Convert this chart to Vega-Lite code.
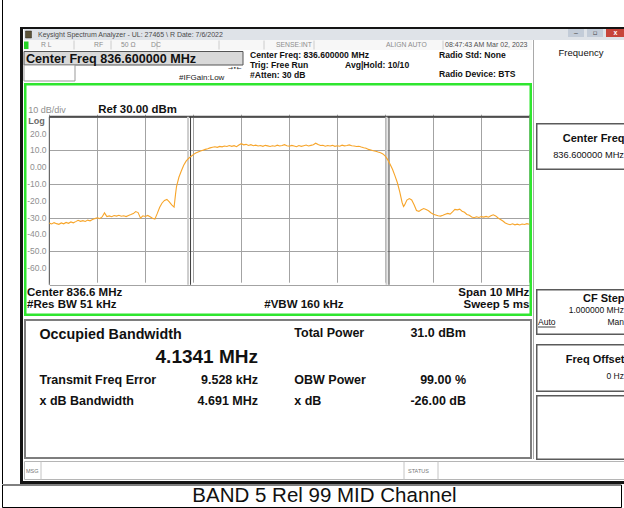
{
  "$schema": "https://vega.github.io/schema/vega-lite/v6.json",
  "background": "white",
  "padding": {"left": 2, "top": 0, "right": 0, "bottom": 0},
  "spacing": 0,
  "config": {
    "view": {"stroke": null},
    "font": "Liberation Sans",
    "text": {"font": "Liberation Sans", "baseline": "middle"},
    "axis": {"domain": false, "ticks": false, "labels": false, "grid": false, "titleOpacity": 0, "titleFontSize": 0, "titlePadding": 0, "labelPadding": 0, "labelOverlap": false, "minExtent": 0},
    "concat": {"spacing": 0}
  },
  "datasets": {
    "one": [{"k": 1}],
    "obw": [{"edge": "lower", "f": 834.5425}, {"edge": "upper", "f": 838.6766}],
    "ylabels": [
      {"lvl": 20, "txt": "20.0"}, {"lvl": 10, "txt": "10.0"}, {"lvl": 0, "txt": "0.00"}, {"lvl": -10, "txt": "-10.0"},
      {"lvl": -20, "txt": "-20.0"}, {"lvl": -30, "txt": "-30.0"}, {"lvl": -40, "txt": "-40.0"}, {"lvl": -50, "txt": "-50.0"}, {"lvl": -60, "txt": "-60.0"}
    ],
    "results": [
      {"name": "Occupied Bandwidth", "value": "4.1341 MHz"},
      {"name": "Total Power", "value": "31.0 dBm"},
      {"name": "Transmit Freq Error", "value": "9.528 kHz"},
      {"name": "OBW Power", "value": "99.00 %"},
      {"name": "x dB Bandwidth", "value": "4.691 MHz"},
      {"name": "x dB", "value": "-26.00 dB"}
    ],
    "trace": [
      {"f":831.60,"p":-33.3},{"f":831.65,"p":-33.8},{"f":831.70,"p":-33.0},{"f":831.75,"p":-33.6},{"f":831.80,"p":-34.0},
      {"f":831.85,"p":-33.2},{"f":831.90,"p":-33.7},{"f":831.95,"p":-32.9},{"f":832.00,"p":-33.4},{"f":832.05,"p":-32.6},
      {"f":832.10,"p":-33.1},{"f":832.15,"p":-32.4},{"f":832.20,"p":-31.6},{"f":832.25,"p":-32.2},{"f":832.30,"p":-31.8},
      {"f":832.35,"p":-32.3},{"f":832.40,"p":-31.5},{"f":832.45,"p":-31.9},{"f":832.50,"p":-31.2},{"f":832.55,"p":-30.6},
      {"f":832.60,"p":-30.1},{"f":832.65,"p":-30.6},{"f":832.70,"p":-29.6},{"f":832.75,"p":-27.2},{"f":832.80,"p":-29.4},
      {"f":832.85,"p":-29.0},{"f":832.90,"p":-29.5},{"f":832.95,"p":-28.8},{"f":833.00,"p":-29.1},{"f":833.05,"p":-28.6},
      {"f":833.10,"p":-29.2},{"f":833.15,"p":-28.9},{"f":833.20,"p":-29.4},{"f":833.25,"p":-28.7},{"f":833.30,"p":-28.2},
      {"f":833.35,"p":-27.6},{"f":833.40,"p":-26.4},{"f":833.45,"p":-27.0},{"f":833.50,"p":-30.3},{"f":833.55,"p":-28.9},
      {"f":833.60,"p":-29.3},{"f":833.65,"p":-28.7},{"f":833.70,"p":-29.5},{"f":833.75,"p":-30.4},{"f":833.80,"p":-30.9},
      {"f":833.85,"p":-27.5},{"f":833.90,"p":-23.8},{"f":833.95,"p":-21.3},{"f":834.00,"p":-19.8},{"f":834.05,"p":-19.2},
      {"f":834.10,"p":-20.6},{"f":834.15,"p":-22.4},{"f":834.20,"p":-23.8},{"f":834.23,"p":-16.0},{"f":834.25,"p":-11.5},
      {"f":834.30,"p":-6.0},{"f":834.35,"p":-2.3},{"f":834.40,"p":1.2},{"f":834.45,"p":3.6},{"f":834.50,"p":5.2},
      {"f":834.55,"p":6.4},{"f":834.60,"p":7.5},{"f":834.65,"p":8.4},{"f":834.70,"p":9.0},{"f":834.75,"p":9.6},
      {"f":834.80,"p":10.1},{"f":834.85,"p":10.6},{"f":834.90,"p":11.0},{"f":834.95,"p":11.5},{"f":835.00,"p":11.9},
      {"f":835.05,"p":12.2},{"f":835.10,"p":11.8},{"f":835.15,"p":12.4},{"f":835.20,"p":12.1},{"f":835.25,"p":12.6},
      {"f":835.30,"p":12.3},{"f":835.35,"p":12.9},{"f":835.40,"p":12.4},{"f":835.45,"p":12.8},{"f":835.50,"p":12.2},
      {"f":835.55,"p":13.2},{"f":835.60,"p":14.0},{"f":835.65,"p":13.3},{"f":835.70,"p":13.6},{"f":835.75,"p":12.9},
      {"f":835.80,"p":13.4},{"f":835.85,"p":12.8},{"f":835.90,"p":13.1},{"f":835.95,"p":12.6},{"f":836.00,"p":12.9},
      {"f":836.05,"p":12.4},{"f":836.10,"p":13.0},{"f":836.15,"p":12.7},{"f":836.20,"p":12.3},{"f":836.25,"p":12.8},
      {"f":836.30,"p":12.5},{"f":836.35,"p":13.1},{"f":836.40,"p":12.6},{"f":836.45,"p":12.9},{"f":836.50,"p":13.4},
      {"f":836.55,"p":12.8},{"f":836.60,"p":12.5},{"f":836.65,"p":13.0},{"f":836.70,"p":12.6},{"f":836.75,"p":12.2},
      {"f":836.80,"p":12.9},{"f":836.85,"p":12.4},{"f":836.90,"p":12.8},{"f":836.95,"p":13.2},{"f":837.00,"p":12.6},
      {"f":837.05,"p":13.0},{"f":837.10,"p":13.4},{"f":837.15,"p":14.3},{"f":837.20,"p":13.5},{"f":837.25,"p":12.9},
      {"f":837.30,"p":13.1},{"f":837.35,"p":12.5},{"f":837.40,"p":12.9},{"f":837.45,"p":12.6},{"f":837.50,"p":13.0},
      {"f":837.55,"p":12.4},{"f":837.60,"p":12.8},{"f":837.65,"p":12.5},{"f":837.70,"p":13.1},{"f":837.75,"p":12.7},
      {"f":837.80,"p":12.9},{"f":837.85,"p":13.3},{"f":837.90,"p":12.8},{"f":837.95,"p":12.6},{"f":838.00,"p":12.3},
      {"f":838.05,"p":12.5},{"f":838.10,"p":12.0},{"f":838.15,"p":11.6},{"f":838.20,"p":11.3},{"f":838.25,"p":10.6},
      {"f":838.30,"p":10.2},{"f":838.35,"p":9.8},{"f":838.40,"p":9.5},{"f":838.45,"p":9.0},{"f":838.50,"p":8.6},
      {"f":838.55,"p":7.9},{"f":838.60,"p":6.6},{"f":838.65,"p":4.5},{"f":838.70,"p":1.8},{"f":838.75,"p":-1.2},
      {"f":838.80,"p":-5.0},{"f":838.85,"p":-9.1},{"f":838.90,"p":-14.5},{"f":838.95,"p":-21.0},{"f":838.98,"p":-23.4},
      {"f":839.00,"p":-22.6},{"f":839.05,"p":-19.6},{"f":839.10,"p":-18.7},{"f":839.15,"p":-19.5},{"f":839.20,"p":-22.4},
      {"f":839.25,"p":-25.8},{"f":839.30,"p":-26.3},{"f":839.35,"p":-25.3},{"f":839.40,"p":-24.6},{"f":839.45,"p":-25.2},
      {"f":839.50,"p":-25.9},{"f":839.55,"p":-27.1},{"f":839.60,"p":-28.0},{"f":839.65,"p":-28.4},{"f":839.70,"p":-28.9},
      {"f":839.75,"p":-29.1},{"f":839.80,"p":-28.6},{"f":839.85,"p":-28.0},{"f":839.90,"p":-27.5},{"f":839.95,"p":-27.9},
      {"f":840.00,"p":-26.6},{"f":840.05,"p":-25.1},{"f":840.10,"p":-25.4},{"f":840.15,"p":-25.0},{"f":840.20,"p":-26.2},
      {"f":840.25,"p":-26.8},{"f":840.30,"p":-28.1},{"f":840.35,"p":-28.6},{"f":840.40,"p":-29.6},{"f":840.45,"p":-30.1},
      {"f":840.50,"p":-29.5},{"f":840.55,"p":-29.9},{"f":840.60,"p":-29.4},{"f":840.65,"p":-29.7},{"f":840.70,"p":-29.3},
      {"f":840.75,"p":-29.8},{"f":840.80,"p":-28.9},{"f":840.85,"p":-28.3},{"f":840.90,"p":-29.0},{"f":840.95,"p":-30.2},
      {"f":841.00,"p":-31.1},{"f":841.05,"p":-32.0},{"f":841.10,"p":-33.2},{"f":841.15,"p":-33.8},{"f":841.20,"p":-34.2},
      {"f":841.25,"p":-33.7},{"f":841.30,"p":-34.3},{"f":841.35,"p":-33.9},{"f":841.40,"p":-34.4},{"f":841.45,"p":-33.8},
      {"f":841.50,"p":-34.1},{"f":841.55,"p":-33.6},{"f":841.60,"p":-34.0}
    ]
  },
  "vconcat": [
    {"hconcat": [
      {"width": 1, "height": 484, "data": {"name": "one"}, "mark": {"type": "text", "text": "", "fontSize": 1}, "view": {"fill": "#000000", "stroke": null}},
      {"width": 17, "height": 484, "data": {"name": "one"}, "mark": {"type": "text", "text": "", "fontSize": 1}, "view": {"stroke": null}},
      {"vconcat": [
        {"width": 604, "height": 27, "data": {"name": "one"}, "mark": {"type": "text", "text": "", "fontSize": 1}, "view": {"stroke": null}},
        {"width": 604, "height": 2, "data": {"name": "one"}, "mark": {"type": "text", "text": "", "fontSize": 1}, "view": {"fill": "#141414", "stroke": null}},
        {"hconcat": [
          {"width": 3, "height": 452, "data": {"name": "one"}, "mark": {"type": "text", "text": "", "fontSize": 1}, "view": {"fill": "#141414", "stroke": null}},
          {"vconcat": [
            {"hconcat": [
              {"width": 541, "height": 11, "view": {"fill": "#dfe3e8", "stroke": null}, "data": {"name": "one"},
               "layer": [
                 {"mark": {"type": "rect", "fill": "#5b5238", "stroke": "#2d2a20", "strokeWidth": 0.5},
                  "encoding": {"x": {"datum": 1.5, "type": "quantitative", "scale": {"domain": [0, 541], "nice": false, "zero": false}}, "x2": {"datum": 7.5},
                               "y": {"datum": 2, "type": "quantitative", "scale": {"domain": [0, 11], "nice": false, "zero": false, "reverse": true}}, "y2": {"datum": 9}}},
                 {"mark": {"type": "text", "align": "left", "fontSize": 7, "fill": "#4a4a4a", "text": "Keysight Spectrum Analyzer - UL: 27465 \\ R Date: 7/6/2022"},
                  "encoding": {"x": {"datum": 14}, "y": {"datum": 5.7}}}
               ]},
              {"width": 3, "height": 11, "data": {"name": "one"}, "mark": {"type": "text", "text": "", "fontSize": 1}, "view": {"fill": "#dfe3e8", "stroke": null}},
              {"vconcat": [
                {"width": 16, "height": 8, "data": {"name": "one"}, "mark": {"type": "text", "text": "–", "fontSize": 7, "fill": "#444"}, "view": {"fill": "#c3ccd8", "stroke": null}},
                {"width": 16, "height": 3, "data": {"name": "one"}, "mark": {"type": "text", "text": "", "fontSize": 1}, "view": {"fill": "#dfe3e8", "stroke": null}}
              ]},
              {"width": 3, "height": 11, "data": {"name": "one"}, "mark": {"type": "text", "text": "", "fontSize": 1}, "view": {"fill": "#dfe3e8", "stroke": null}},
              {"vconcat": [
                {"width": 16, "height": 8, "data": {"name": "one"}, "mark": {"type": "text", "text": "▫", "fontSize": 7, "fill": "#444", "font": "DejaVu Sans"}, "view": {"fill": "#c3ccd8", "stroke": null}},
                {"width": 16, "height": 3, "data": {"name": "one"}, "mark": {"type": "text", "text": "", "fontSize": 1}, "view": {"fill": "#dfe3e8", "stroke": null}}
              ]},
              {"width": 3, "height": 11, "data": {"name": "one"}, "mark": {"type": "text", "text": "", "fontSize": 1}, "view": {"fill": "#dfe3e8", "stroke": null}},
              {"vconcat": [
                {"width": 19, "height": 8, "data": {"name": "one"}, "mark": {"type": "text", "text": "x", "fontSize": 7, "fontWeight": "bold", "fill": "#ffffff"}, "view": {"fill": "#c7453b", "stroke": null}},
                {"width": 19, "height": 3, "data": {"name": "one"}, "mark": {"type": "text", "text": "", "fontSize": 1}, "view": {"fill": "#dfe3e8", "stroke": null}}
              ]}
            ]},
            {"hconcat": [
              {"vconcat": [
                {"width": 508, "height": 10, "view": {"fill": "#f7f7f7", "stroke": null}, "data": {"name": "one"},
                 "layer": [
                   {"mark": {"type": "rect", "fill": "#24d424"},
                    "encoding": {"x": {"datum": 0, "type": "quantitative", "scale": {"domain": [0, 508], "nice": false, "zero": false}}, "x2": {"datum": 4.5},
                                 "y": {"datum": 1.5, "type": "quantitative", "scale": {"domain": [0, 10], "nice": false, "zero": false, "reverse": true}}, "y2": {"datum": 9}}},
                   {"mark": {"type": "rule", "color": "#cccccc"}, "encoding": {"x": {"datum": 50}, "y": {"datum": 0.5}, "y2": {"datum": 9.5}}},
                   {"mark": {"type": "rule", "color": "#cccccc"}, "encoding": {"x": {"datum": 87}, "y": {"datum": 0.5}, "y2": {"datum": 9.5}}},
                   {"mark": {"type": "rule", "color": "#cccccc"}, "encoding": {"x": {"datum": 133}, "y": {"datum": 0.5}, "y2": {"datum": 9.5}}},
                   {"mark": {"type": "rule", "color": "#cccccc"}, "encoding": {"x": {"datum": 195}, "y": {"datum": 0.5}, "y2": {"datum": 9.5}}},
                   {"mark": {"type": "rule", "color": "#cccccc"}, "encoding": {"x": {"datum": 240}, "y": {"datum": 0.5}, "y2": {"datum": 9.5}}},
                   {"mark": {"type": "rule", "color": "#cccccc"}, "encoding": {"x": {"datum": 290}, "y": {"datum": 0.5}, "y2": {"datum": 9.5}}},
                   {"mark": {"type": "rule", "color": "#cccccc"}, "encoding": {"x": {"datum": 419}, "y": {"datum": 0.5}, "y2": {"datum": 9.5}}},
                   {"mark": {"type": "text", "align": "left", "fontSize": 6.8, "fill": "#8c8c8c", "text": "R L"}, "encoding": {"x": {"datum": 17}, "y": {"datum": 5.2}}},
                   {"mark": {"type": "text", "align": "left", "fontSize": 6.8, "fill": "#8c8c8c", "text": "RF"}, "encoding": {"x": {"datum": 70}, "y": {"datum": 5.2}}},
                   {"mark": {"type": "text", "align": "left", "fontSize": 6.8, "fill": "#8c8c8c", "text": "50 Ω"}, "encoding": {"x": {"datum": 97}, "y": {"datum": 5.2}}},
                   {"mark": {"type": "text", "align": "left", "fontSize": 6.8, "fill": "#8c8c8c", "text": "DC"}, "encoding": {"x": {"datum": 127}, "y": {"datum": 5.2}}},
                   {"mark": {"type": "text", "align": "left", "fontSize": 6.8, "fill": "#8c8c8c", "text": "SENSE:INT"}, "encoding": {"x": {"datum": 252}, "y": {"datum": 5.2}}},
                   {"mark": {"type": "text", "align": "left", "fontSize": 6.8, "fill": "#8c8c8c", "text": "ALIGN AUTO"}, "encoding": {"x": {"datum": 362}, "y": {"datum": 5.2}}},
                   {"mark": {"type": "text", "align": "left", "fontSize": 7, "fill": "#4f4f4f", "text": "08:47:43 AM Mar 02, 2023"}, "encoding": {"x": {"datum": 421}, "y": {"datum": 5.2}}}
                 ]},
                {"width": 508, "height": 32, "view": {"stroke": null}, "data": {"name": "one"},
                 "layer": [
                   {"mark": {"type": "rect", "fill": "#d9d9d9", "stroke": "#555555", "strokeWidth": 1},
                    "encoding": {"x": {"datum": 0, "type": "quantitative", "scale": {"domain": [0, 508], "nice": false, "zero": false}}, "x2": {"datum": 219},
                                 "y": {"datum": 1.5, "type": "quantitative", "scale": {"domain": [0, 32], "nice": false, "zero": false, "reverse": true}}, "y2": {"datum": 15}}},
                   {"mark": {"type": "text", "align": "left", "fontSize": 12.6, "fontWeight": "bold", "fill": "#111111", "text": "Center Freq 836.600000 MHz"}, "encoding": {"x": {"datum": 2}, "y": {"datum": 8.5}}},
                   {"mark": {"type": "rect", "fill": "#ffffff", "stroke": "#999999", "strokeWidth": 1}, "encoding": {"x": {"datum": 0}, "x2": {"datum": 51}, "y": {"datum": 15}, "y2": {"datum": 31}}},
                   {"mark": {"type": "text", "align": "left", "fontSize": 8, "fill": "#222222", "text": "#IFGain:Low"}, "encoding": {"x": {"datum": 155}, "y": {"datum": 27.5}}},
                   {"mark": {"type": "text", "align": "left", "fontSize": 6, "fill": "#333333", "font": "DejaVu Sans", "text": "→•←"}, "encoding": {"x": {"datum": 204}, "y": {"datum": 17.5}}},
                   {"mark": {"type": "text", "align": "left", "fontSize": 8.6, "fontWeight": "bold", "fill": "#111111", "text": "Center Freq: 836.600000 MHz"}, "encoding": {"x": {"datum": 226}, "y": {"datum": 4.8}}},
                   {"mark": {"type": "text", "align": "left", "fontSize": 8.6, "fontWeight": "bold", "fill": "#111111", "text": "Trig: Free Run"}, "encoding": {"x": {"datum": 226}, "y": {"datum": 15}}},
                   {"mark": {"type": "text", "align": "left", "fontSize": 8.6, "fontWeight": "bold", "fill": "#111111", "text": "#Atten: 30 dB"}, "encoding": {"x": {"datum": 226}, "y": {"datum": 24.5}}},
                   {"mark": {"type": "text", "align": "left", "fontSize": 8.6, "fontWeight": "bold", "fill": "#111111", "text": "Avg|Hold: 10/10"}, "encoding": {"x": {"datum": 321}, "y": {"datum": 15}}},
                   {"mark": {"type": "text", "align": "left", "fontSize": 8.6, "fontWeight": "bold", "fill": "#111111", "text": "Radio Std: None"}, "encoding": {"x": {"datum": 415}, "y": {"datum": 5.3}}},
                   {"mark": {"type": "text", "align": "left", "fontSize": 8.6, "fontWeight": "bold", "fill": "#111111", "text": "Radio Device: BTS"}, "encoding": {"x": {"datum": 415}, "y": {"datum": 23.5}}}
                 ]},
                {"width": 508, "height": 233, "view": {"stroke": null, "fill": "white"}, "data": {"name": "one"},
                 "layer": [
                   {"mark": {"type": "rect", "fillOpacity": 0, "stroke": "#2fe62f", "strokeWidth": 2.5}, "encoding": {"x": {"datum": 831.099}, "x2": {"datum": 841.630}, "y": {"datum": 49.375}, "y2": {"datum": -87.83}}},
                   {"mark": {"type": "rule", "color": "#5a5a5a", "strokeWidth": 1}, "encoding": {"x": {"datum": 831.6}, "y": {"datum": 30}, "y2": {"datum": -70}}},
                   {"mark": {"type": "rule", "color": "#4d4d4d", "strokeWidth": 2}, "encoding": {"x": {"datum": 831.6}, "x2": {"datum": 841.6}, "y": {"datum": 30}}},
                   {"data": {"name": "obw"}, "mark": {"type": "rule", "color": "#cdcdcd", "strokeWidth": 2, "xOffset": -2.5}, "encoding": {"x": {"field": "f", "type": "quantitative"}, "y": {"datum": 30}, "y2": {"datum": -70}}},
                   {"data": {"name": "obw"}, "mark": {"type": "rule", "color": "#3d3d3d", "strokeWidth": 1}, "encoding": {"x": {"field": "f", "type": "quantitative"}, "y": {"datum": 30}, "y2": {"datum": -70}}},
                   {"data": {"name": "ylabels"}, "mark": {"type": "text", "align": "right", "fontSize": 8.5, "fill": "#8f8f8f"}, "encoding": {"x": {"datum": 831.542}, "y": {"field": "lvl", "type": "quantitative"}, "text": {"field": "txt"}}},
                   {"mark": {"type": "text", "align": "left", "fontSize": 9, "fill": "#8f8f8f", "text": "10 dB/div"}, "encoding": {"x": {"datum": 831.1625}, "y": {"datum": 34.1}}},
                   {"mark": {"type": "text", "align": "left", "fontSize": 9, "fontWeight": "bold", "fill": "#6a6a6a", "text": "Log"}, "encoding": {"x": {"datum": 831.1625}, "y": {"datum": 27.7}}},
                   {"mark": {"type": "text", "align": "left", "fontSize": 11.4, "fontWeight": "bold", "fill": "#111111", "text": "Ref 30.00 dBm"}, "encoding": {"x": {"datum": 832.621}, "y": {"datum": 34.23}}},
                   {"mark": {"type": "text", "align": "left", "fontSize": 11.5, "fontWeight": "bold", "fill": "#111111", "text": "Center  836.6 MHz"}, "encoding": {"x": {"datum": 831.135}, "y": {"datum": -74.7}}},
                   {"mark": {"type": "text", "align": "left", "fontSize": 11.5, "fontWeight": "bold", "fill": "#111111", "text": "#Res BW  51 kHz"}, "encoding": {"x": {"datum": 831.135}, "y": {"datum": -82.2}}},
                   {"mark": {"type": "text", "align": "left", "fontSize": 11.5, "fontWeight": "bold", "fill": "#111111", "text": "#VBW  160 kHz"}, "encoding": {"x": {"datum": 836.079}, "y": {"datum": -82.2}}},
                   {"mark": {"type": "text", "align": "right", "fontSize": 11.5, "fontWeight": "bold", "fill": "#111111", "text": "Span 10 MHz"}, "encoding": {"x": {"datum": 841.6}, "y": {"datum": -74.7}}},
                   {"mark": {"type": "text", "align": "right", "fontSize": 11.5, "fontWeight": "bold", "fill": "#111111", "text": "Sweep  5 ms"}, "encoding": {"x": {"datum": 841.6}, "y": {"datum": -82.2}}},
                   {"data": {"name": "trace"}, "mark": {"type": "line", "color": "#f7a52a", "strokeWidth": 1.1},
                    "encoding": {
                      "x": {"field": "f", "type": "quantitative",
                            "scale": {"domain": [831.6, 841.6], "range": [25.3, 505.3], "nice": false, "zero": false},
                            "axis": {"values": [831.6, 832.6, 833.6, 834.6, 835.6, 836.6, 837.6, 838.6, 839.6, 840.6, 841.6], "grid": true, "gridColor": "#a3a3a3", "gridWidth": 1, "labels": false, "ticks": false, "domain": false, "title": null}},
                      "y": {"field": "p", "type": "quantitative",
                            "scale": {"domain": [-70, 30], "range": [201.8, 33.8], "nice": false, "zero": false},
                            "axis": {"values": [30, 20, 10, 0, -10, -20, -30, -40, -50, -60, -70], "grid": true, "gridColor": "#a3a3a3", "gridWidth": 1, "labels": false, "ticks": false, "domain": false, "title": null}}
                    }}
                 ]},
                {"width": 508, "height": 2, "data": {"name": "one"}, "mark": {"type": "text", "text": "", "fontSize": 1}, "view": {"stroke": null}},
                {"width": 508, "height": 140, "view": {"stroke": null, "fill": "white"}, "data": {"name": "results"},
                 "layer": [
                   {"mark": {"type": "rect", "fillOpacity": 0, "stroke": "#7d7d7d", "strokeWidth": 1.5},
                    "encoding": {"x": {"datum": 0.75, "type": "quantitative", "scale": {"domain": [0, 508], "nice": false, "zero": false}}, "x2": {"datum": 507.25},
                                 "y": {"datum": 0.75, "type": "quantitative", "scale": {"domain": [0, 140], "nice": false, "zero": false, "reverse": true}}, "y2": {"datum": 139.25}}},
                   {"transform": [{"filter": "datum.name === 'Occupied Bandwidth'"}],
                    "mark": {"type": "text", "align": "left", "fontSize": 14.3, "fontWeight": "bold", "fill": "#111111"},
                    "encoding": {"x": {"datum": 15.5}, "y": {"datum": 15.7}, "text": {"field": "name"}}},
                   {"transform": [{"filter": "datum.name === 'Occupied Bandwidth'"}],
                    "mark": {"type": "text", "align": "right", "fontSize": 19, "fontWeight": "bold", "fill": "#111111"},
                    "encoding": {"x": {"datum": 234}, "y": {"datum": 38.3}, "text": {"field": "value"}}},
                   {"transform": [{"filter": "datum.name === 'Total Power'"}],
                    "mark": {"type": "text", "align": "left", "fontSize": 12.5, "fontWeight": "bold", "fill": "#111111"},
                    "encoding": {"x": {"datum": 270.3}, "y": {"datum": 14}, "text": {"field": "name"}}},
                   {"transform": [{"filter": "datum.name === 'Total Power'"}],
                    "mark": {"type": "text", "align": "right", "fontSize": 12.5, "fontWeight": "bold", "fill": "#111111"},
                    "encoding": {"x": {"datum": 442}, "y": {"datum": 14}, "text": {"field": "value"}}},
                   {"transform": [{"filter": "datum.name === 'Transmit Freq Error'"}],
                    "mark": {"type": "text", "align": "left", "fontSize": 12.5, "fontWeight": "bold", "fill": "#111111"},
                    "encoding": {"x": {"datum": 15.5}, "y": {"datum": 61.3}, "text": {"field": "name"}}},
                   {"transform": [{"filter": "datum.name === 'Transmit Freq Error'"}],
                    "mark": {"type": "text", "align": "right", "fontSize": 12.5, "fontWeight": "bold", "fill": "#111111"},
                    "encoding": {"x": {"datum": 234}, "y": {"datum": 61.3}, "text": {"field": "value"}}},
                   {"transform": [{"filter": "datum.name === 'OBW Power'"}],
                    "mark": {"type": "text", "align": "left", "fontSize": 12.5, "fontWeight": "bold", "fill": "#111111"},
                    "encoding": {"x": {"datum": 270.3}, "y": {"datum": 61.3}, "text": {"field": "name"}}},
                   {"transform": [{"filter": "datum.name === 'OBW Power'"}],
                    "mark": {"type": "text", "align": "right", "fontSize": 12.5, "fontWeight": "bold", "fill": "#111111"},
                    "encoding": {"x": {"datum": 442}, "y": {"datum": 61.3}, "text": {"field": "value"}}},
                   {"transform": [{"filter": "datum.name === 'x dB Bandwidth'"}],
                    "mark": {"type": "text", "align": "left", "fontSize": 12.5, "fontWeight": "bold", "fill": "#111111"},
                    "encoding": {"x": {"datum": 15.5}, "y": {"datum": 81.7}, "text": {"field": "name"}}},
                   {"transform": [{"filter": "datum.name === 'x dB Bandwidth'"}],
                    "mark": {"type": "text", "align": "right", "fontSize": 12.5, "fontWeight": "bold", "fill": "#111111"},
                    "encoding": {"x": {"datum": 234}, "y": {"datum": 81.7}, "text": {"field": "value"}}},
                   {"transform": [{"filter": "datum.name === 'x dB'"}],
                    "mark": {"type": "text", "align": "left", "fontSize": 12.5, "fontWeight": "bold", "fill": "#111111"},
                    "encoding": {"x": {"datum": 270.3}, "y": {"datum": 81.7}, "text": {"field": "name"}}},
                   {"transform": [{"filter": "datum.name === 'x dB'"}],
                    "mark": {"type": "text", "align": "right", "fontSize": 12.5, "fontWeight": "bold", "fill": "#111111"},
                    "encoding": {"x": {"datum": 442}, "y": {"datum": 81.7}, "text": {"field": "value"}}}
                 ]},
                {"width": 508, "height": 1, "data": {"name": "one"}, "mark": {"type": "text", "text": "", "fontSize": 1}, "view": {"stroke": null}}
              ]},
              {"hconcat": [
                {"width": 1, "height": 419, "data": {"name": "one"}, "mark": {"type": "text", "text": "", "fontSize": 1}, "view": {"stroke": null}},
                {"width": 1, "height": 419, "data": {"name": "one"}, "mark": {"type": "text", "text": "", "fontSize": 1}, "view": {"fill": "#a9a9a9", "stroke": null}},
                {"width": 2, "height": 419, "data": {"name": "one"}, "mark": {"type": "text", "text": "", "fontSize": 1}, "view": {"stroke": null}},
                {"vconcat": [
                  {"width": 92, "height": 82, "view": {"stroke": null}, "data": {"name": "one"},
                   "layer": [
                     {"mark": {"type": "text", "align": "center", "fontSize": 9.5, "fill": "#111111", "text": "Frequency"},
                      "encoding": {"x": {"datum": 45, "type": "quantitative", "scale": {"domain": [0, 92], "nice": false, "zero": false}},
                                   "y": {"datum": 13, "type": "quantitative", "scale": {"domain": [0, 82], "nice": false, "zero": false, "reverse": true}}}}
                   ]},
                  {"width": 92, "height": 47, "view": {"stroke": null, "fill": "white"}, "data": {"name": "one"},
                   "layer": [
                     {"mark": {"type": "rect", "fillOpacity": 0, "stroke": "#5a5a5a", "strokeWidth": 1.5},
                      "encoding": {"x": {"datum": 0.75, "type": "quantitative", "scale": {"domain": [0, 92], "nice": false, "zero": false}}, "x2": {"datum": 91.25},
                                   "y": {"datum": 0.75, "type": "quantitative", "scale": {"domain": [0, 47], "nice": false, "zero": false, "reverse": true}}, "y2": {"datum": 46.25}}},
                     {"mark": {"type": "text", "align": "right", "fontSize": 11, "fontWeight": "bold", "fill": "#111111", "text": "Center Freq"}, "encoding": {"x": {"datum": 88.5}, "y": {"datum": 16}}},
                     {"mark": {"type": "text", "align": "right", "fontSize": 9.3, "fill": "#111111", "text": "836.600000 MHz"}, "encoding": {"x": {"datum": 88}, "y": {"datum": 32}}}
                   ]},
                  {"width": 92, "height": 119, "data": {"name": "one"}, "mark": {"type": "text", "text": "", "fontSize": 1}, "view": {"stroke": null}},
                  {"width": 92, "height": 46, "view": {"stroke": null, "fill": "white"}, "data": {"name": "one"},
                   "layer": [
                     {"mark": {"type": "rect", "fillOpacity": 0, "stroke": "#5a5a5a", "strokeWidth": 1.5},
                      "encoding": {"x": {"datum": 0.75, "type": "quantitative", "scale": {"domain": [0, 92], "nice": false, "zero": false}}, "x2": {"datum": 91.25},
                                   "y": {"datum": 0.75, "type": "quantitative", "scale": {"domain": [0, 46], "nice": false, "zero": false, "reverse": true}}, "y2": {"datum": 45.25}}},
                     {"mark": {"type": "text", "align": "right", "fontSize": 11, "fontWeight": "bold", "fill": "#111111", "text": "CF Step"}, "encoding": {"x": {"datum": 88.5}, "y": {"datum": 10}}},
                     {"mark": {"type": "text", "align": "right", "fontSize": 8.5, "fill": "#111111", "text": "1.000000 MHz"}, "encoding": {"x": {"datum": 88}, "y": {"datum": 21}}},
                     {"mark": {"type": "text", "align": "left", "fontSize": 8.5, "fill": "#111111", "text": "Auto"}, "encoding": {"x": {"datum": 2}, "y": {"datum": 33}}},
                     {"mark": {"type": "rule", "color": "#111111", "strokeWidth": 0.8}, "encoding": {"x": {"datum": 2}, "x2": {"datum": 19.5}, "y": {"datum": 38}}},
                     {"mark": {"type": "text", "align": "right", "fontSize": 8.5, "fill": "#111111", "text": "Man"}, "encoding": {"x": {"datum": 88}, "y": {"datum": 33}}}
                   ]},
                  {"width": 92, "height": 9, "data": {"name": "one"}, "mark": {"type": "text", "text": "", "fontSize": 1}, "view": {"stroke": null}},
                  {"width": 92, "height": 48, "view": {"stroke": null, "fill": "white"}, "data": {"name": "one"},
                   "layer": [
                     {"mark": {"type": "rect", "fillOpacity": 0, "stroke": "#5a5a5a", "strokeWidth": 1.5},
                      "encoding": {"x": {"datum": 0.75, "type": "quantitative", "scale": {"domain": [0, 92], "nice": false, "zero": false}}, "x2": {"datum": 91.25},
                                   "y": {"datum": 0.75, "type": "quantitative", "scale": {"domain": [0, 48], "nice": false, "zero": false, "reverse": true}}, "y2": {"datum": 47.25}}},
                     {"mark": {"type": "text", "align": "right", "fontSize": 11, "fontWeight": "bold", "fill": "#111111", "text": "Freq Offset"}, "encoding": {"x": {"datum": 88.5}, "y": {"datum": 16}}},
                     {"mark": {"type": "text", "align": "right", "fontSize": 8.5, "fill": "#111111", "text": "0 Hz"}, "encoding": {"x": {"datum": 88}, "y": {"datum": 32}}}
                   ]},
                  {"width": 92, "height": 3, "data": {"name": "one"}, "mark": {"type": "text", "text": "", "fontSize": 1}, "view": {"stroke": null}},
                  {"width": 92, "height": 65, "view": {"stroke": null, "fill": "white"}, "data": {"name": "one"},
                   "layer": [
                     {"mark": {"type": "rect", "fillOpacity": 0, "stroke": "#5a5a5a", "strokeWidth": 1.5},
                      "encoding": {"x": {"datum": 0.75, "type": "quantitative", "scale": {"domain": [0, 92], "nice": false, "zero": false}}, "x2": {"datum": 91.25},
                                   "y": {"datum": 0.75, "type": "quantitative", "scale": {"domain": [0, 65], "nice": false, "zero": false, "reverse": true}}, "y2": {"datum": 64.25}}}
                   ]}
                ]}
              ]}
            ]},
            {"width": 601, "height": 19, "view": {"stroke": null, "fill": "white"}, "data": {"name": "one"},
             "layer": [
               {"mark": {"type": "rect", "fillOpacity": 0, "stroke": "#b5b5b5", "strokeWidth": 1},
                "encoding": {"x": {"datum": 0.5, "type": "quantitative", "scale": {"domain": [0, 601], "nice": false, "zero": false}}, "x2": {"datum": 600.5},
                             "y": {"datum": 0.5, "type": "quantitative", "scale": {"domain": [0, 19], "nice": false, "zero": false, "reverse": true}}, "y2": {"datum": 18.5}}},
               {"mark": {"type": "text", "align": "left", "fontSize": 5.5, "fill": "#777777", "text": "MSG"}, "encoding": {"x": {"datum": 2}, "y": {"datum": 9.5}}},
               {"mark": {"type": "rule", "color": "#c4c4c4"}, "encoding": {"x": {"datum": 17}, "y": {"datum": 0.5}, "y2": {"datum": 18.5}}},
               {"mark": {"type": "rule", "color": "#c4c4c4"}, "encoding": {"x": {"datum": 380}, "y": {"datum": 0.5}, "y2": {"datum": 18.5}}},
               {"mark": {"type": "rule", "color": "#c4c4c4"}, "encoding": {"x": {"datum": 414}, "y": {"datum": 0.5}, "y2": {"datum": 18.5}}},
               {"mark": {"type": "text", "align": "left", "fontSize": 5.5, "fill": "#777777", "text": "STATUS"}, "encoding": {"x": {"datum": 384}, "y": {"datum": 9.5}}}
             ]}
          ]}
        ]},
        {"width": 604, "height": 3, "data": {"name": "one"}, "mark": {"type": "text", "text": "", "fontSize": 1}, "view": {"fill": "#141414", "stroke": null}}
      ]}
    ]},
    {"width": 620, "height": 23, "view": {"stroke": null, "fill": "white"}, "data": {"name": "one"},
     "layer": [
       {"mark": {"type": "rect", "fillOpacity": 0, "stroke": "#000000", "strokeWidth": 1},
        "encoding": {"x": {"datum": 0.5, "type": "quantitative", "scale": {"domain": [0, 620], "nice": false, "zero": false}}, "x2": {"datum": 619.5},
                     "y": {"datum": 0, "type": "quantitative", "scale": {"domain": [0, 23], "nice": false, "zero": false, "reverse": true}}, "y2": {"datum": 22.5}}},
       {"mark": {"type": "text", "align": "center", "fontSize": 20.5, "fill": "#111111", "text": "BAND 5 Rel 99 MID Channel"},
        "encoding": {"x": {"datum": 322.5}, "y": {"datum": 11}}}
     ]}
  ]
}
